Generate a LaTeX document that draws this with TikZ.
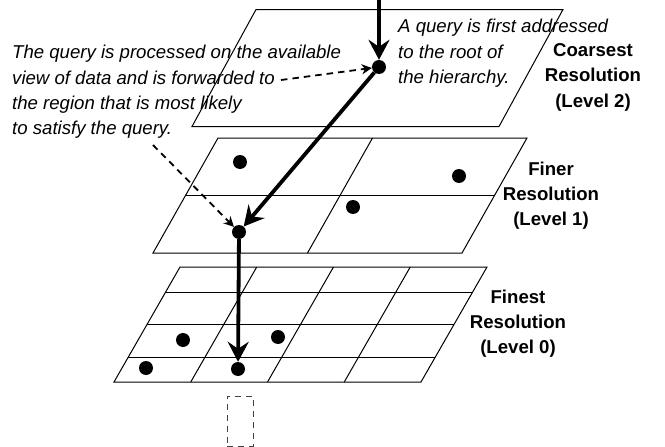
\documentclass[tikz,border=0pt]{standalone}
\usepackage{fontspec}
\setmainfont{Liberation Sans}
\usetikzlibrary{arrows.meta,calc}
\begin{document}
\begin{tikzpicture}[x=1pt,y=-1pt,
  plane/.style={draw=black, line width=1pt, line join=miter},
  cell/.style={draw=black, line width=1pt},
  dot/.style={circle, fill=black, inner sep=0pt, minimum size=14pt},
  flow/.style={line width=3.8pt, -{Stealth[length=20pt,width=21pt,inset=7pt]}},
  hint/.style={line width=1.8pt, dash pattern=on 6.5pt off 5pt, -{Stealth[length=10pt,width=10pt,inset=3pt]}},
  note/.style={font=\fontsize{18.6}{25.4}\selectfont\itshape, align=left, inner sep=0pt, anchor=north west},
  level/.style={font=\fontsize{18.6}{25.3}\selectfont\bfseries, align=center, inner sep=0pt, anchor=north},
  nextbox/.style={draw=black!75, line width=1pt, dash pattern=on 6pt off 5pt, inner sep=0pt, minimum width=26pt, minimum height=50pt},
]
\useasboundingbox (0,0) rectangle (665,447);
% Level 2 plane
\draw[plane] (256,9.5) coordinate (p2tl) -- (563,9.5) coordinate (p2tr) -- (499,126.5) coordinate (p2br) -- (192,126.5) coordinate (p2bl) -- cycle;
% Level 1 plane
\draw[plane] (218,138) coordinate (p1tl) -- (527,138) coordinate (p1tr) -- (462,253) coordinate (p1br) -- (153,253) coordinate (p1bl) -- cycle;
\draw[cell] ($(p1tl)!0.5!(p1tr)$) -- ($(p1bl)!0.5!(p1br)$);
\draw[cell] ($(p1tl)!0.5!(p1bl)$) -- ($(p1tr)!0.5!(p1br)$);
% Level 0 plane
\draw[plane] (180,267) coordinate (p0tl) -- (487,267) coordinate (p0tr) -- (421,382) coordinate (p0br) -- (114,382) coordinate (p0bl) -- cycle;
\foreach \i in {1,2,3}
  \draw[cell] ($(p0tl)!\i/4!(p0tr)$) -- ($(p0bl)!\i/4!(p0br)$);
\foreach \t in {0.226,0.504,0.783}
  \draw[cell] ($(p0tl)!\t!(p0bl)$) -- ($(p0tr)!\t!(p0br)$);
% dots
\node[dot] (d2) at (379,67) {};
\node[dot] (d1) at (239,232) {};
\node[dot] (d0) at (238,369) {};
\node[dot] (a1) at (240,162) {};
\node[dot] (b1) at (459,176) {};
\node[dot] (c1) at (353,207) {};
\node[dot] (a0) at (183,340) {};
\node[dot] (b0) at (278,337) {};
\node[dot] (c0) at (146,368) {};
% query path
\coordinate (qin) at (379,0);
\draw[flow] (qin) -- (d2);
\draw[flow] (d2) -- (d1);
\draw[flow] (d1) -- (d0);
% notes
\node[note] (topnote) at (398,19) {A query is first addressed\\to the root of\\the hierarchy.};
\node[note] (leftnote) at (12,45) {The query is processed on the available\\view of data and is forwarded to\\the region that is most likely\\to satisfy the query.};
\coordinate (h1) at (281,80);
\draw[hint] (h1) -- (d2);
\coordinate (h2) at (153,145);
\draw[hint] (h2) -- (d1);
% level labels
\node[level] (l2) at (593,43.5) {Coarsest\\Resolution\\(Level 2)};
\node[level] (l1) at (551,161.5) {Finer\\Resolution\\(Level 1)};
\node[level] (l0) at (518,289.5) {Finest\\Resolution\\(Level 0)};
% next level placeholder
\node[nextbox] (nextlvl) at (240,421) {};
\end{tikzpicture}
\end{document}
